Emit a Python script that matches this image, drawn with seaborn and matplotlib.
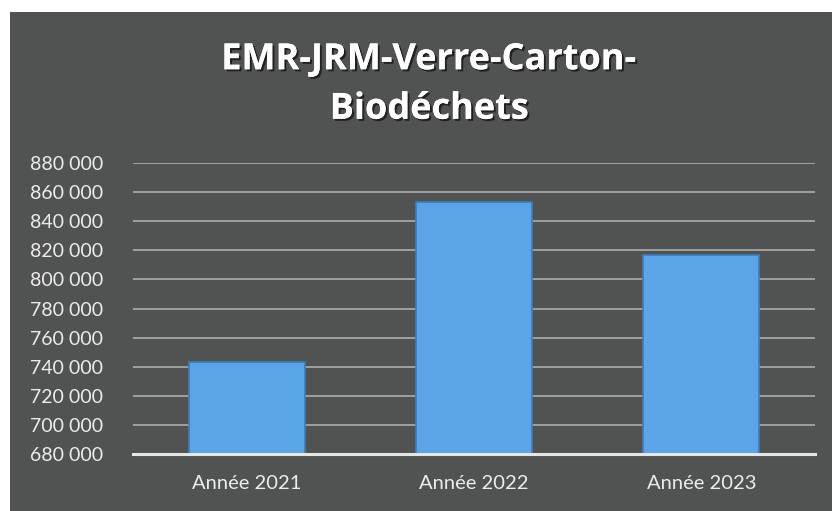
import matplotlib
matplotlib.use("Agg")
import matplotlib.pyplot as plt
import matplotlib.patheffects as pe
from matplotlib.ticker import FuncFormatter
import pandas as pd
import seaborn as sns

# Données
annees = ["Année 2021", "Année 2022", "Année 2023"]
tonnages = [743000, 853000, 817000]
titre = "EMR-JRM-Verre-Carton-\nBiodéchets"

df = pd.DataFrame({"annee": annees, "valeur": tonnages})

sns.set_style("dark")
plt.rcParams["font.family"] = ["Lato", "DejaVu Sans"]

fig = plt.figure(figsize=(8.32, 5.11), dpi=100, facecolor="white")

# fond gris foncé du graphique scanné
fond = plt.Rectangle((10 / 832, 0), 1, 1 - 12 / 511, transform=fig.transFigure,
                     facecolor="#515352", edgecolor="none", zorder=-5)
fig.patches.append(fond)

ax = fig.add_axes([133 / 832, 1 - 454 / 511, (815 - 133) / 832, (454 - 163) / 511])
ax.set_facecolor("none")

sns.barplot(data=df, x="annee", y="valeur", ax=ax, color="#5ca4e8",
            width=0.51, edgecolor="#3f7cba", linewidth=1.2, saturation=1, zorder=3)

ax.set_ylim(680000, 880000)
ax.set_yticks(range(680000, 880001, 20000))
ax.yaxis.set_major_formatter(FuncFormatter(lambda v, p: f"{int(v):,}".replace(",", " ")))
ax.grid(axis="y", color="#acaead", linewidth=1.2, zorder=0)
ax.grid(axis="x", visible=False)

for s in ["top", "right", "left"]:
    ax.spines[s].set_visible(False)
ax.spines["bottom"].set_color("#e6e6e6")
ax.spines["bottom"].set_linewidth(2.2)
ax.spines["bottom"].set_zorder(4)

ax.tick_params(axis="y", colors="#ececec", labelsize=14, length=0, pad=21.5)
ax.tick_params(axis="x", colors="#ececec", labelsize=14.5, length=0, pad=15)
ax.set_xlabel("")
ax.set_ylabel("")

fig.text(0.516, 1 - 85 / 511, titre, ha="center", va="center", fontsize=26,
         fontweight="bold", color="white", linespacing=1.5, family=["Open Sans", "DejaVu Sans"],
         path_effects=[pe.withSimplePatchShadow(offset=(1.5, -1.5), shadow_rgbFace="black", alpha=0.6),
                       pe.Normal()])

fig.savefig("out.png", dpi=100, facecolor=fig.get_facecolor())
